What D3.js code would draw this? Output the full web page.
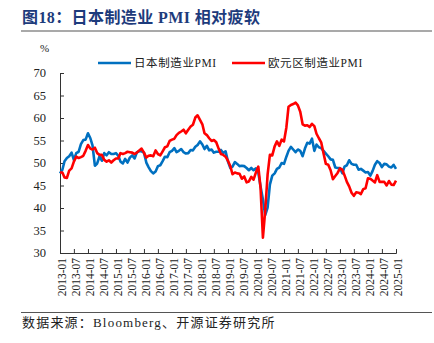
<!DOCTYPE html>
<html>
<head>
<meta charset="utf-8">
<script src="https://cdn.jsdelivr.net/npm/d3@7"></script>
<style>
  html, body { margin: 0; padding: 0; background: #fff; }
  svg { display: block; }
</style>
</head>
<body>
<div id="chart"></div>
<script>
// monthly PMI, 2013-01 .. 2025-01
const startMonth = "2013-01";
const japanPmi = [
  47.7, 48.5, 50.4, 51.1, 51.5, 52.3, 50.7, 52.2, 52.5, 54.2, 55.1, 55.2,
  56.6, 55.5, 53.9, 49.4, 49.9, 51.5, 50.5, 52.2, 51.7, 52.4, 52.0, 52.0,
  52.2, 51.6, 50.3, 49.9, 50.9, 50.1, 51.2, 51.7, 51.0, 52.4, 52.6, 52.6,
  52.3, 50.1, 49.1, 48.2, 47.7, 48.1, 49.3, 49.5, 50.4, 51.4, 51.3, 52.4,
  52.7, 53.3, 52.4, 52.7, 53.1, 52.4, 52.1, 52.2, 52.9, 52.8, 53.6, 54.0,
  54.8, 54.1, 53.1, 53.8, 52.8, 53.0, 52.3, 52.5, 52.5, 52.9, 52.2, 52.6,
  50.3, 48.9, 49.2, 50.2, 49.8, 49.3, 49.4, 49.3, 48.9, 48.4, 48.9, 48.4,
  48.8, 47.8, 44.8, 41.9, 38.4, 40.1, 45.2, 47.2, 47.7, 48.7, 49.0, 50.0,
  49.8, 51.4, 52.7, 53.6, 53.0, 52.4, 53.0, 52.7, 51.5, 53.2, 54.5, 54.3,
  55.4, 52.7, 54.1, 53.5, 53.3, 52.7, 52.1, 51.5, 50.8, 50.7, 49.0, 48.9,
  48.9, 47.7, 49.2, 49.5, 50.6, 49.8, 49.6, 49.6, 48.5, 48.7, 48.3, 47.9,
  48.0, 47.2, 48.2, 49.6, 50.4, 50.0, 49.1, 49.8, 49.7, 49.2, 49.0, 49.6,
  48.7
];
const euroPmi = [
  47.9, 47.9, 46.8, 46.7, 48.3, 48.8, 50.3, 51.4, 51.1, 51.3, 51.6, 52.7,
  54.0, 53.2, 53.0, 53.4, 52.2, 51.8, 51.8, 50.7, 50.3, 50.6, 50.1, 50.6,
  51.0, 51.0, 52.2, 52.0, 52.2, 52.5, 52.4, 52.3, 52.0, 52.3, 52.8, 53.2,
  52.3, 51.2, 51.6, 51.7, 51.5, 52.8, 52.0, 51.7, 52.6, 53.5, 53.7, 54.9,
  55.2, 55.4, 56.2, 56.7, 57.0, 57.4, 56.6, 57.4, 58.1, 58.5, 60.1, 60.6,
  59.6, 58.6, 56.6, 56.2, 55.5, 54.9, 55.1, 54.6, 53.2, 52.0, 51.8, 51.4,
  50.5, 49.3, 47.5, 47.9, 47.7, 47.6, 46.5, 47.0, 45.7, 45.9, 46.9, 46.3,
  47.9, 49.2, 44.5, 33.4, 39.4, 47.4, 51.8, 51.7, 53.7, 54.8, 53.8, 55.2,
  54.8, 57.9, 62.5, 62.9, 63.1, 63.4, 62.8, 61.4, 58.6, 58.3, 58.4, 58.0,
  58.7, 58.2, 56.5, 55.5, 54.6, 52.1, 49.8, 49.6, 48.4, 46.4, 47.1, 47.8,
  48.8, 48.5, 47.3, 45.8, 44.8, 43.4, 42.7, 43.5, 43.4, 43.1, 44.2, 44.4,
  46.6, 46.5, 46.1, 45.7, 47.3, 45.8, 45.8, 45.8, 45.0, 46.0, 45.2, 45.1,
  46.1
];
const seriesNames = ["日本制造业PMI", "欧元区制造业PMI"];
const yTicks = [30, 35, 40, 45, 50, 55, 60, 65, 70];

const width = 434, height = 343;
const margin = { left: 60, right: 38, top: 73, bottom: 90 };
const serif = "'Liberation Serif', 'Times New Roman', 'Noto Sans CJK SC', serif";
const colors = ["#0070c0", "#ff0000"];

const parseMonth = d3.timeParse("%Y-%m");
const t0 = parseMonth(startMonth);
const months = japanPmi.map((_, i) => d3.timeMonth.offset(t0, i));

const svg = d3.select("#chart").append("svg")
  .attr("width", width)
  .attr("height", height);

// title and rules
svg.append("text")
  .attr("x", 22).attr("y", 23)
  .attr("fill", "#1d3b7c")
  .attr("font-family", serif)
  .attr("font-weight", "bold")
  .attr("font-size", 16)
  .attr("letter-spacing", 0.4)
  .text("图18：日本制造业 PMI 相对疲软");

svg.append("line")
  .attr("x1", 21).attr("x2", 432).attr("y1", 31).attr("y2", 31)
  .attr("stroke", "#8c8c8c").attr("stroke-width", 1.3);

svg.append("line")
  .attr("x1", 21).attr("x2", 432).attr("y1", 312.5).attr("y2", 312.5)
  .attr("stroke", "#555").attr("stroke-width", 1);

svg.append("text")
  .attr("x", 22).attr("y", 327)
  .attr("fill", "#222")
  .attr("font-family", serif)
  .attr("font-size", 13)
  .attr("letter-spacing", 1.2)
  .text("数据来源：Bloomberg、开源证券研究所");

const x = d3.scaleTime()
  .domain([t0, months[months.length - 1]])
  .range([margin.left, width - margin.right]);

const y = d3.scaleLinear()
  .domain([30, 70])
  .range([height - margin.bottom, margin.top]);

// y axis
const yAxis = svg.append("g")
  .attr("transform", `translate(${margin.left},0)`)
  .call(d3.axisRight(y).tickValues(yTicks).tickSize(4).tickFormat(""));
yAxis.select(".domain").attr("stroke", "#333");
yAxis.selectAll(".tick line").attr("stroke", "#333");

svg.append("g").selectAll("text")
  .data(yTicks)
  .join("text")
  .attr("x", margin.left - 14)
  .attr("y", d => y(d))
  .attr("dy", "0.35em")
  .attr("text-anchor", "end")
  .attr("font-family", serif)
  .attr("font-size", 12.5)
  .attr("fill", "#222")
  .text(d => d);

svg.append("text")
  .attr("x", 40).attr("y", 52)
  .attr("font-family", serif)
  .attr("font-size", 11)
  .attr("fill", "#222")
  .text("%");

// x axis, half-year ticks
const xTicks = d3.timeMonth.every(6).range(t0, d3.timeMonth.offset(months[months.length - 1], 1));
const xAxis = svg.append("g")
  .attr("transform", `translate(0,${height - margin.bottom})`)
  .call(d3.axisTop(x).tickValues(xTicks).tickSize(4).tickFormat(""));
xAxis.select(".domain").attr("stroke", "#333");
xAxis.selectAll(".tick line").attr("stroke", "#333");

const fmt = d3.timeFormat("%Y-%m");
svg.append("g").selectAll("text")
  .data(xTicks)
  .join("text")
  .attr("transform", d => `translate(${x(d) + 2},${height - margin.bottom + 5}) rotate(-90)`)
  .attr("dy", "0.35em")
  .attr("text-anchor", "end")
  .attr("font-family", serif)
  .attr("font-size", 11.5)
  .attr("fill", "#222")
  .text(d => fmt(d));

// lines
const line = d3.line()
  .x((d, i) => x(months[i]))
  .y(d => y(d));

[japanPmi, euroPmi].forEach((series, k) => {
  svg.append("path")
    .datum(series)
    .attr("fill", "none")
    .attr("stroke", colors[k])
    .attr("stroke-width", 2.6)
    .attr("stroke-linejoin", "round")
    .attr("d", line);
});

// legend
const legendX = [98, 232];
seriesNames.forEach((name, k) => {
  const g = svg.append("g").attr("transform", `translate(${legendX[k]},63)`);
  g.append("line")
    .attr("x1", 0).attr("x2", 33)
    .attr("stroke", colors[k]).attr("stroke-width", 2.6);
  g.append("text")
    .attr("x", 36).attr("dy", "0.35em")
    .attr("font-family", serif)
    .attr("font-size", 11.5)
    .attr("letter-spacing", 0.6)
    .attr("fill", "#222")
    .text(name);
});
</script>
</body>
</html>
